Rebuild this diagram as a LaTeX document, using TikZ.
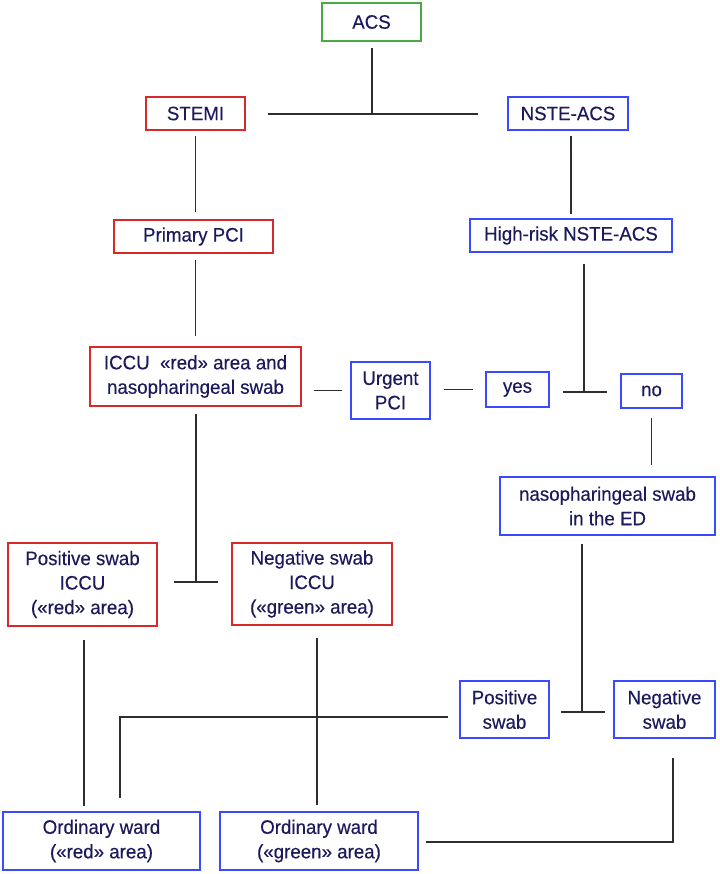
\documentclass[tikz,border=0pt]{standalone}
\usepackage{fontspec}
\setmainfont{Liberation Sans}
\newfontfamily\dfont[FakeBold=0.3,FakeStretch=0.96]{Liberation Sans}
\definecolor{txt}{HTML}{1A1A5C}
\definecolor{bred}{HTML}{D42A2A}
\definecolor{bblue}{HTML}{3A4BFF}
\definecolor{bgreen}{HTML}{4CAA44}
\definecolor{lin}{HTML}{2E2E2E}
\begin{document}
\begin{tikzpicture}[x=1pt,y=-1pt,
  box/.style={draw, line width=1.7pt, fill=white, inner sep=0pt, align=center, text=txt,
    font={\dfont\fontsize{19.5}{24.5}\selectfont}},
  redbox/.style={box, draw=bred},
  bluebox/.style={box, draw=bblue},
  greenbox/.style={box, draw=bgreen},
  conn/.style={draw=lin, line width=1.2pt}]
\useasboundingbox[fill=white] (0,0) rectangle (719,874);
% nodes
\node[greenbox, minimum width=99pt, minimum height=38pt] (acs) at (371.5,22) {ACS};
\node[redbox, minimum width=99pt, minimum height=33pt] (stemi) at (195.5,113.5) {STEMI};
\node[bluebox, minimum width=120pt, minimum height=33pt] (nste) at (568,113.5) {NSTE-ACS};
\node[redbox, minimum width=159pt, minimum height=33pt] (primary) at (193.5,236.5) {Primary PCI};
\node[bluebox, minimum width=202pt, minimum height=33pt] (hr) at (571,235.5) {High-risk NSTE-ACS};
\node[redbox, minimum width=211pt, minimum height=59pt] (iccu) at (195.5,376.5) {ICCU\ \ «red» area and\\nasopharingeal swab};
\node[bluebox, minimum width=79pt, minimum height=57pt] (urgent) at (390.5,390.5) {Urgent\\PCI};
\node[bluebox, minimum width=63pt, minimum height=35pt] (yes) at (517.5,389.5) {yes};
\node[bluebox, minimum width=61pt, minimum height=34pt] (no) at (651.5,391) {no};
\node[bluebox, minimum width=215pt, minimum height=58pt] (ed) at (607.5,506) {nasopharingeal swab\\in the ED};
\node[redbox, minimum width=149pt, minimum height=83pt] (posiccu) at (82.5,584.5) {Positive swab\\ICCU\\(«red» area)};
\node[redbox, minimum width=160pt, minimum height=82pt] (negiccu) at (312,584) {Negative swab\\ICCU\\(«green» area)};
\node[bluebox, minimum width=89pt, minimum height=57pt] (posswab) at (504.5,709.5) {Positive\\swab};
\node[bluebox, minimum width=101pt, minimum height=57pt] (negswab) at (664.5,709.5) {Negative\\swab};
\node[bluebox, minimum width=197pt, minimum height=58pt] (ordred) at (101.5,841) {Ordinary ward\\(«red» area)};
\node[bluebox, minimum width=198pt, minimum height=58pt] (ordgreen) at (319,841) {Ordinary ward\\(«green» area)};
% junctions
\coordinate (j1) at (372,114);
\coordinate (j2) at (584,392);
\coordinate (j3) at (196,582);
\coordinate (j4) at (582,712);
\coordinate (p1) at (120,717);
\coordinate (p2) at (673,842);
% connectors
\draw[conn, shorten <=6pt] (acs.south -| j1) -- (j1);
\draw[conn, shorten <=22pt, shorten >=29pt] (stemi.east |- j1) -- (nste.west |- j1);
\draw[conn, shorten <=5pt, shorten >=7pt] (stemi.south) -- (stemi.south |- primary.north);
\draw[conn, shorten <=5pt, shorten >=4pt] (nste.south -| hr.north) -- (hr.north);
\draw[conn, shorten <=6pt, shorten >=10pt] (primary.south -| iccu.north) -- (iccu.north);
\draw[conn, shorten <=12pt, shorten >=8pt] (iccu.east |- urgent.west) -- (urgent.west);
\draw[conn, shorten <=13pt, shorten >=12pt] (urgent.east |- yes.west) -- (yes.west);
\draw[conn, shorten <=13pt, shorten >=13pt] (yes.east |- j2) -- (no.west |- j2);
\draw[conn, shorten <=11pt] (hr.south -| j2) -- (j2);
\draw[conn, shorten <=9pt, shorten >=11pt] (no.south) -- (no.south |- ed.north);
\draw[conn, shorten <=7pt] (iccu.south -| j3) -- (j3);
\draw[conn, shorten <=16pt, shorten >=13pt] (posiccu.east |- j3) -- (negiccu.west |- j3);
\draw[conn, shorten <=8pt] (ed.south -| j4) -- (j4);
\draw[conn, shorten <=11pt, shorten >=8pt] (posswab.east |- j4) -- (negswab.west |- j4);
\draw[conn, shorten <=13pt, shorten >=5pt] (84,626) coordinate (q1) (posiccu.south -| q1) -- (ordred.north -| q1);
\draw[conn, shorten <=12pt, shorten >=6pt] (317,626) coordinate (q2) (negiccu.south -| q2) -- (ordgreen.north -| q2);
\draw[conn, shorten <=11pt, shorten >=13pt] (posswab.west |- p1) -- (p1) -- (p1 |- ordred.north);
\draw[conn, shorten <=19pt, shorten >=7pt] (negswab.south -| p2) -- (p2) -- (ordgreen.east |- p2);
\end{tikzpicture}
\end{document}
